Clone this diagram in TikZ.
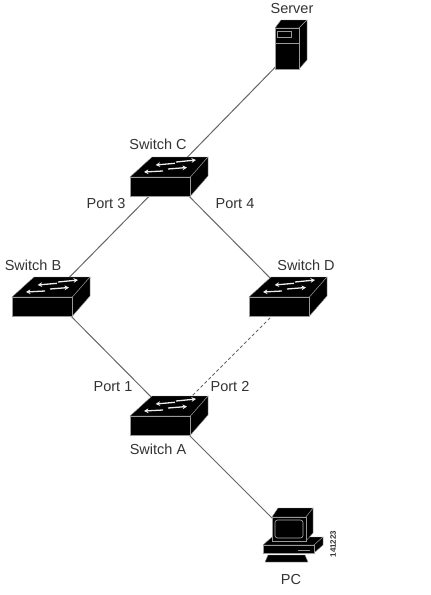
\documentclass[tikz,border=0pt]{standalone}
\usepackage{fontspec}
\setmainfont{Liberation Sans}
\usetikzlibrary{arrows.meta}
\definecolor{lbl}{HTML}{333333}
\definecolor{lnk}{HTML}{666666}
\tikzset{
  lab/.style={font=\fontsize{14.5}{16}\selectfont,text=lbl,inner sep=0pt},
  linkline/.style={draw=lnk,line width=1pt},
  edgew/.style={draw=white!60!black,line width=0.4pt,fill=black},
  flow/.style={white!92!black,line width=1.3pt,-{Stealth[length=4.5pt,width=4.8pt]}},
  switchicon/.pic={
    \path[edgew] (0,0)--(22,-20)--(78,-20)--(60.5,0)--cycle;
    \path[edgew] (60.5,0)--(78,-20)--(78,-1)--(60.5,19)--cycle;
    \path[edgew] (0,0)--(60.5,0)--(60.5,19)--(0,19)--cycle;
    \draw[flow] (45,-13.7)--(25.7,-12);
    \draw[flow] (46,-15)--(66,-17);
    \draw[flow] (33,-6)--(14,-5);
    \draw[flow] (38,-8)--(57,-9.5);
  },
  servericon/.pic={
    \path[edgew] (275,28)--(281,20)--(307,20)--(299,28)--cycle;
    \path[edgew] (299,28)--(307,20)--(307,60)--(299,69)--cycle;
    \path[edgew] (275,28)--(299,28)--(299,69)--(275,69)--cycle;
    \draw[white!60!black,line width=0.6pt,fill=black] (277.5,31)rectangle(291,37);
    \draw[white!60!black,line width=0.4pt] (275,43)--(299,43);
  },
  pcicon/.pic={
    \path[edgew] (265,562)--(268,555)--(305,555)--(308,562)--cycle;
    \path[edgew] (263,545)--(272,537)--(323,537)--(314,545)--cycle;
    \path[edgew] (314,545)--(323,537)--(323,545)--(314,553)--cycle;
    \path[edgew] (263,545)rectangle(314,553);
    \draw[white!60!black,line width=0.5pt] (298,550)--(310,550);
    \path[edgew] (272,517)--(278,508)--(313,508)--(306,517)--cycle;
    \path[edgew] (306,517)--(313,508)--(313,533)--(306,541)--cycle;
    \path[edgew] (272,517)rectangle(306,541);
    \draw[white!70!black,line width=0.6pt,rounded corners=2.5pt,fill=black] (275,520)rectangle(303,538);
  }
}
\begin{document}
\begin{tikzpicture}[x=1pt,y=-1pt]
\useasboundingbox (0,0) rectangle (431,595);
\fill[white] (0,0) rectangle (431,595);
\coordinate (server) at (292,50);
\coordinate (swC) at (169,176);
\coordinate (swB) at (51,296);
\coordinate (swD) at (288,296);
\coordinate (swA) at (169,415);
\coordinate (dashD) at (290,298);
\coordinate (dashA) at (171,417);
\coordinate (pc) at (290,536);
\draw[linkline] (server)--(swC);
\draw[linkline] (swC)--(swB);
\draw[linkline] (swC)--(swD);
\draw[linkline] (swB)--(swA);
\draw[dash pattern=on 3.2pt off 2.4pt,line width=1pt,draw=lnk] (dashD)--(dashA);
\draw[linkline] (swA)--(pc);
\pic at (0,0) {servericon};
\pic at (130,177) {switchicon};
\pic at (12,297) {switchicon};
\pic at (249,297) {switchicon};
\pic at (130,416) {switchicon};
\pic at (0,0) {pcicon};
\node[lab] (t1) at (292,8.5) {Server};
\node[lab] (t2) at (158,144) {Switch C};
\node[lab] (t3) at (106,204) {Port 3};
\node[lab] (t4) at (235,204) {Port 4};
\node[lab] (t5) at (33,265) {Switch B};
\node[lab] (t6) at (306,265) {Switch D};
\node[lab] (t7) at (113,387) {Port 1};
\node[lab] (t8) at (230,387) {Port 2};
\node[lab] (t9) at (158,449) {Switch A};
\node[lab] (t10) at (291,580) {PC};
\node[font=\bfseries\fontsize{8}{9}\selectfont,text=lbl,inner sep=0pt,rotate=90] (t11) at (333,544) {141223};
\end{tikzpicture}
\end{document}
